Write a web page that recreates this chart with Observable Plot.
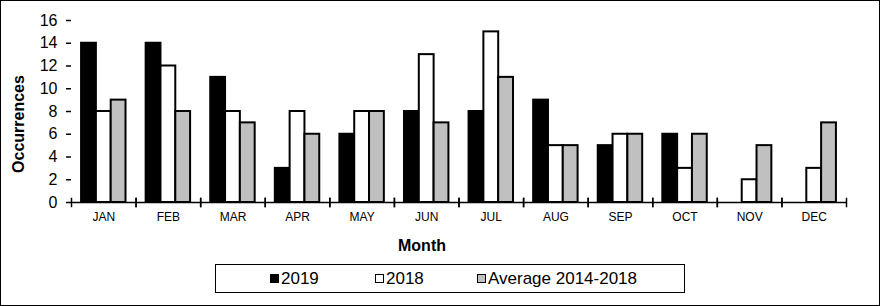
<!DOCTYPE html>
<html>
<head>
<meta charset="utf-8">
<script src="https://cdn.jsdelivr.net/npm/d3@7"></script>
<script src="https://cdn.jsdelivr.net/npm/@observablehq/plot@0.6"></script>
<style>
  html, body { margin: 0; padding: 0; background: #fff; }
  #wrap { position: relative; width: 880px; height: 306px; overflow: hidden; font-family: Arial, "Liberation Sans", sans-serif; color: #000; background: #fff; }
  #chart { position: absolute; left: 0; top: 0; }
  #border { position: absolute; left: 0; top: 0; width: 880px; height: 306px; box-sizing: border-box; border: 1px solid #000; pointer-events: none; }
  #ytitle { position: absolute; left: 19px; top: 124px; transform: translate(-50%, -50%) rotate(-90deg); font-weight: bold; font-size: 16px; white-space: nowrap; }
  #xtitle { position: absolute; left: 422px; top: 246px; transform: translate(-50%, -50%); font-weight: bold; font-size: 16px; white-space: nowrap; }
  #legend { position: absolute; left: 215px; top: 264px; width: 470px; height: 29px; box-sizing: border-box; border: 1px solid #000; font-size: 17px; }
  .item { position: absolute; top: 0; height: 27px; display: flex; align-items: center; gap: 2px; white-space: nowrap; }
  .sw { width: 9px; height: 9px; box-sizing: border-box; border: 1.5px solid #000; }
</style>
</head>
<body>
<div id="wrap">
  <div id="chart"></div>
  <div id="ytitle">Occurrences</div>
  <div id="xtitle">Month</div>
  <div id="legend"></div>
  <div id="border"></div>
</div>
<script>
const months = ["JAN", "FEB", "MAR", "APR", "MAY", "JUN", "JUL", "AUG", "SEP", "OCT", "NOV", "DEC"];
const series = ["2019", "2018", "Average 2014-2018"];
const values2019 = [14, 14, 11, 3, 6, 8, 8, 9, 5, 6, 0, 0];
const values2018 = [8, 12, 8, 8, 8, 13, 15, 5, 6, 3, 2, 3];
const valuesAvg = [9, 8, 7, 6, 8, 7, 11, 5, 6, 6, 5, 7];
const yTicks = [0, 2, 4, 6, 8, 10, 12, 14, 16];
const colors = ["#000000", "#ffffff", "#c0c0c0"];
const legendOffsets = [54, 159, 261];

const seriesValues = [values2019, values2018, valuesAvg];
const data = months.flatMap((m, i) => series.map((s, j) => ({month: m, series: s, value: seriesValues[j][i]})));

const chart = Plot.plot({
  width: 880,
  height: 258,
  marginLeft: 71,
  marginRight: 34,
  marginTop: 20,
  marginBottom: 56,
  style: {fontFamily: "Arial, 'Liberation Sans', sans-serif", color: "#000", background: "transparent"},
  fx: {domain: months, paddingInner: 0, paddingOuter: 0, round: false, label: null, axis: null},
  x: {domain: series, paddingInner: 0, paddingOuter: 0.68, round: false, axis: null},
  y: {domain: [0, 16], label: null, axis: null},
  color: {domain: series, range: colors},
  marks: [
    Plot.barY(data, {fx: "month", x: "series", y: "value", fill: "series", stroke: "#000", strokeWidth: 2, filter: d => d.value > 0}),
    Plot.ruleY([0], {stroke: "#000", strokeWidth: 1.5}),
    Plot.frame({anchor: "left", insetTop: 178, insetBottom: -4, stroke: "#000", strokeWidth: 1.5}),
    Plot.frame({anchor: "right", insetTop: 178, insetBottom: -4, stroke: "#000", strokeWidth: 1.5}),
    Plot.axisY({ticks: yTicks, tickSize: 5, tickPadding: 9, fontSize: 16, label: null, line: true, strokeWidth: 1.5}),
    Plot.axisFx({anchor: "bottom", tickSize: 0, tickPadding: 10, fontSize: 12, label: null})
  ]
});
document.getElementById("chart").appendChild(chart);

const legend = document.getElementById("legend");
series.forEach((s, i) => {
  const item = document.createElement("div");
  item.className = "item";
  item.style.left = legendOffsets[i] + "px";
  const sw = document.createElement("div");
  sw.className = "sw";
  sw.style.background = colors[i];
  const label = document.createElement("span");
  label.textContent = s;
  item.appendChild(sw);
  item.appendChild(label);
  legend.appendChild(item);
});
</script>
</body>
</html>
